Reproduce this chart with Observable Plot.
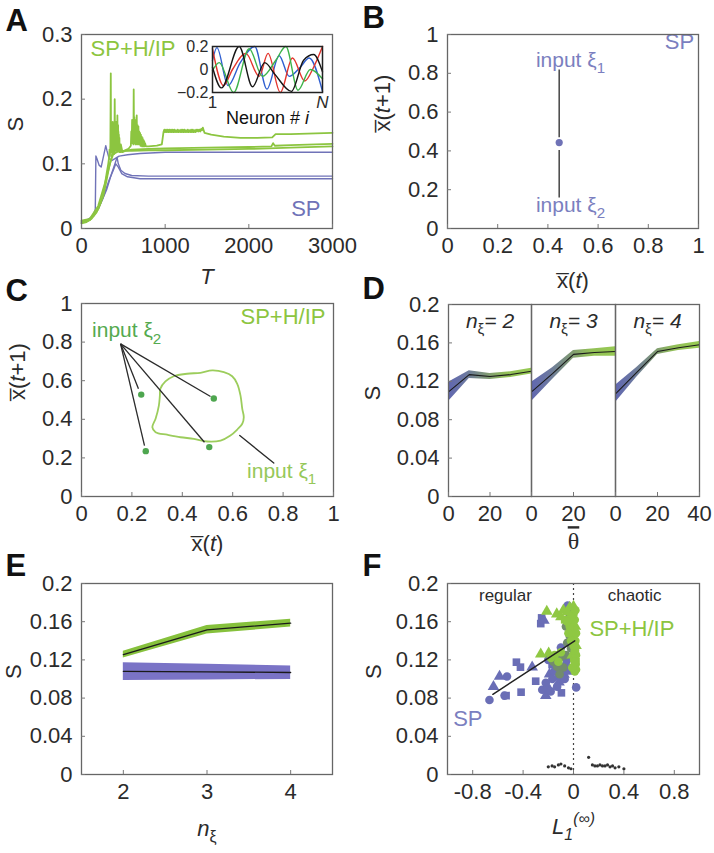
<!DOCTYPE html>
<html><head><meta charset="utf-8">
<script src="https://cdn.jsdelivr.net/npm/d3@7"></script>
<script src="https://cdn.jsdelivr.net/npm/@observablehq/plot@0.6"></script>
<style>
body{margin:0;background:#fff;}
#fig{position:relative;width:714px;height:853px;background:#fff;overflow:hidden;}
#fig svg{position:absolute;overflow:visible;}
</style></head><body><div id="fig"></div>
<script>
// ---------------- DATA ----------------
// Panel A: S vs T, three SP runs and three SP+H/IP runs  [T, S]
const spRun1 = [[0,0.010],[80,0.012],[140,0.020],[165,0.030],[172,0.112],[185,0.108],[210,0.098],[235,0.095],[260,0.110],[290,0.128],[305,0.120],[330,0.108],[360,0.105],[400,0.108],[450,0.112],[550,0.114],[700,0.116],[1000,0.118],[2000,0.118],[3000,0.118]];
const spRun2 = [[0,0.010],[100,0.015],[200,0.030],[300,0.060],[360,0.085],[400,0.100],[425,0.110],[440,0.100],[470,0.090],[520,0.085],[600,0.082],[800,0.081],[1000,0.081],[3000,0.081]];
const spRun3 = [[0,0.008],[150,0.020],[250,0.045],[330,0.075],[380,0.090],[410,0.100],[440,0.095],[480,0.085],[550,0.080],[700,0.077],[1000,0.077],[3000,0.077]];
const hipRun1 = [[0,0.008],[60,0.010],[120,0.015],[180,0.025],[230,0.040],[270,0.060],[300,0.085],[320,0.100],
  [330,0.110],[335,0.122],[340,0.112],[345,0.130],[350,0.240],[353,0.125],[357,0.140],[361,0.118],[365,0.150],[369,0.122],[373,0.165],[377,0.120],[381,0.145],[385,0.125],[389,0.150],[393,0.122],[397,0.200],[401,0.125],[405,0.155],[409,0.120],[413,0.165],[417,0.128],[421,0.150],[425,0.122],[429,0.175],[433,0.120],[437,0.160],[441,0.125],[445,0.145],[449,0.120],[453,0.140],[457,0.118],[462,0.130],[470,0.118],
  [520,0.121],[560,0.123],
  [590,0.128],[595,0.150],[600,0.132],[605,0.168],[610,0.135],[615,0.165],[620,0.130],[624,0.215],[628,0.135],[632,0.172],[636,0.132],[640,0.168],[645,0.130],[650,0.165],[655,0.132],[660,0.175],[665,0.130],[670,0.160],[675,0.132],[680,0.158],[685,0.130],[690,0.150],[695,0.130],[700,0.148],[705,0.128],[710,0.145],[715,0.128],[720,0.142],[725,0.127],[730,0.140],[735,0.127],[740,0.137],[745,0.127],[750,0.135],[755,0.127],[760,0.132],[770,0.127],
  [800,0.127],[900,0.128],[960,0.130],
  [980,0.149],[990,0.153],[1000,0.149],[1010,0.153],[1020,0.149],[1030,0.153],[1040,0.149],[1050,0.153],[1060,0.149],[1070,0.153],[1080,0.149],[1090,0.153],[1100,0.149],[1110,0.153],[1120,0.149],[1130,0.152],[1140,0.149],[1150,0.153],[1160,0.149],[1170,0.152],[1180,0.149],[1190,0.153],[1200,0.149],[1210,0.153],[1220,0.149],[1230,0.153],[1240,0.149],[1250,0.152],[1260,0.149],[1270,0.153],[1280,0.149],[1290,0.152],[1300,0.149],[1310,0.153],[1320,0.149],[1330,0.153],[1340,0.149],[1350,0.152],[1360,0.149],[1370,0.153],[1380,0.150],[1390,0.153],[1400,0.150],[1410,0.153],[1420,0.150],[1430,0.154],[1440,0.152],[1450,0.156],[1460,0.152],[1470,0.148],
  [1550,0.145],[1700,0.142],[1900,0.140],[2100,0.140],[2280,0.141],[2320,0.146],[2500,0.146],[2800,0.147],[3000,0.148]];
const hipRun2 = [[0,0.010],[100,0.013],[200,0.030],[260,0.050],[300,0.075],[330,0.095],[360,0.110],[380,0.130],[390,0.115],[410,0.140],[420,0.120],[440,0.150],[450,0.120],[470,0.130],[490,0.118],[520,0.120],[600,0.122],[800,0.123],[1000,0.124],[1500,0.125],[2000,0.126],[2270,0.127],[2290,0.132],[2310,0.128],[2500,0.129],[3000,0.131]];
const hipRun3 = [[0,0.012],[100,0.015],[200,0.035],[280,0.070],[320,0.090],[350,0.105],[380,0.115],[420,0.118],[480,0.120],[600,0.120],[800,0.121],[1000,0.121],[1500,0.122],[2000,0.123],[2500,0.125],[3000,0.127]];
const aTTicks = [0, 1000, 2000, 3000];
const aSTicks = [0, 0.1, 0.2, 0.3];
// Panel A inset: weights across neuron index [i, value]
const insetBlue  = [[1,0.08],[5,0.19],[15,-0.14],[26,0.06],[39,0.2],[50,-0.17],[61,0.12],[70,-0.06],[80,0.02],[88,0.1],[100,-0.19]];
const insetBlack = [[1,0.02],[9,-0.16],[25,0.2],[37,-0.15],[48,0.06],[57,-0.04],[72,-0.19],[83,0.08],[92,0.13],[100,-0.02]];
const insetRed   = [[1,0.18],[11,-0.14],[19,0.0],[31,0.14],[43,-0.06],[51,0.14],[62,-0.2],[73,0.1],[84,-0.1],[92,0.02],[100,0.2]];
const insetGreen = [[1,-0.01],[7,0.06],[20,-0.2],[34,0.18],[46,-0.06],[58,0.08],[67,0.2],[78,-0.18],[89,0.0],[100,-0.08]];
const insetYTicks = [-0.2, 0, 0.2];
const insetXTicks = [1, 100];

// Panel B: SP fixed point
const bFixedPoint = [[0.445, 0.443]];
const bStemX = [0.445, 0.445];
const bStemFrom = [0.82, 0.405];
const bStemTo = [0.47, 0.16];
const bInputText = ["input ξ_{1}", "input ξ_{2}"];
const bInputX = [0.49, 0.49];
const bInputY = [0.869, 0.119];

// Panel C: SP+H/IP attractor
const cLoop = [[0.313,0.558],[0.333,0.596],[0.366,0.623],[0.419,0.636],[0.472,0.641],[0.519,0.653],[0.565,0.644],[0.598,0.623],[0.618,0.584],[0.631,0.523],[0.638,0.454],[0.644,0.411],[0.638,0.377],[0.618,0.347],[0.591,0.316],[0.552,0.290],[0.499,0.285],[0.446,0.299],[0.393,0.307],[0.340,0.320],[0.294,0.333],[0.281,0.359],[0.294,0.403],[0.307,0.471],[0.311,0.523]];
const cPointX = [0.237, 0.255, 0.507, 0.525];
const cPointY = [0.528, 0.235, 0.256, 0.508];
const cHub = [0.155, 0.791];
const cLeadEndX = [0.226, 0.250, 0.488, 0.512];
const cLeadEndY = [0.558, 0.264, 0.281, 0.518];
const cLoopLead = [[0.628, 0.316], [0.763, 0.173]];

const unitTicks = [0, 0.2, 0.4, 0.6, 0.8, 1];

// Panel D: S vs theta-bar for n_xi = 2,3,4
const dTheta = [0, 10, 20, 30, 40];
const dMean2 = [0.109, 0.127, 0.125, 0.127, 0.1305];
const dSd2   = [0.010, 0.004, 0.003, 0.003, 0.003];
const dMean3 = [0.109, 0.128, 0.148, 0.150, 0.151];
const dSd3   = [0.010, 0.006, 0.004, 0.004, 0.005];
const dMean4 = [0.107, 0.129, 0.151, 0.155, 0.158];
const dSd4   = [0.009, 0.005, 0.003, 0.003, 0.0035];
const dNxi = [2, 3, 4];
const sTicks = [0, 0.04, 0.08, 0.12, 0.16, 0.2];

// Panel E: S vs n_xi
const eN = [2, 3, 4];
const eHipMean = [0.1255, 0.1515, 0.1585];
const eHipSd = [0.0035, 0.0045, 0.004];
const eSpMean = [0.108, 0.1075, 0.1068];
const eSpLo = [0.0984, 0.0990, 0.0996];
const eSpHi = [0.117, 0.1155, 0.1136];

// Panel F: S vs Lyapunov exponent
const fSpCircle = [[-0.667,0.078],[-0.547,0.0826],[-0.528,0.1026],[-0.248,0.0887],[-0.208,0.0908],[-0.181,0.087],[-0.168,0.100],[-0.14,0.119],[-0.061,0.115],[-0.053,0.120],[-0.046,0.177],[0.021,0.0912],[-0.12,0.125],[-0.2,0.120],[-0.1,0.133],[-0.15,0.108],[-0.09,0.110],[-0.22,0.096],[-0.13,0.092],[-0.07,0.100]];
const fSpSquare = [[-0.535,0.0826],[-0.453,0.1176],[-0.421,0.1124],[-0.416,0.0862],[-0.3,0.0977],[-0.253,0.164],[-0.12,0.1025],[-0.096,0.0855],[-0.26,0.158],[-0.17,0.115]];
const fSpTriangle = [[-0.587,0.1026],[-0.635,0.092],[-0.328,0.1124],[-0.235,0.1614],[-0.22,0.0826],[-0.115,0.0966],[-0.075,0.1047],[-0.19,0.105],[-0.05,0.108]];
const fHipCircle = [[0.01,0.108],[0.015,0.115],[0.005,0.120],[0.02,0.125],[0.01,0.130],[0.0,0.135],[0.015,0.140],[0.02,0.148],[0.005,0.152],[-0.01,0.158],[0.01,0.162],[0.0,0.168],[0.015,0.172],[-0.02,0.165],[-0.03,0.155],[-0.04,0.148],[-0.02,0.140],[0.02,0.110],[-0.01,0.112],[0.01,0.118],[-0.05,0.160],[-0.15,0.125],[-0.12,0.118],[-0.1,0.128],[-0.18,0.122]];
const fHipTriangle = [[-0.212,0.1707],[-0.133,0.168],[-0.08,0.172],[-0.03,0.175],[0.0,0.176],[-0.26,0.126],[-0.197,0.127],[-0.05,0.170],[-0.1,0.165],[0.015,0.155],[0.02,0.135],[-0.01,0.125]];
const fHipSquare = [[0.02,0.118],[0.0,0.145],[0.015,0.128],[-0.07,0.162]];
const fOverlap = [[-0.03,0.145],[-0.05,0.138],[-0.02,0.132],[-0.1,0.123],[-0.13,0.113],[-0.08,0.112],[-0.06,0.155],[-0.16,0.118],[-0.02,0.160],[-0.04,0.170],[-0.11,0.105],[-0.06,0.125]];
const fFit = [[-0.64,0.084],[0.01,0.140]];
const fChaosX = [-0.2,-0.17,-0.15,-0.12,-0.1,-0.07,-0.04,-0.02,0.12,0.15,0.17,0.19,0.21,0.23,0.25,0.27,0.29,0.31,0.33,0.36,0.4];
const fChaosY = [0.008,0.009,0.008,0.010,0.011,0.009,0.007,0.006,0.018,0.010,0.009,0.009,0.010,0.009,0.009,0.010,0.008,0.009,0.007,0.008,0.006];
const fLTicks = [-0.8, -0.4, 0, 0.4, 0.8];

// ---------------- STYLE / HELPERS ----------------
const NS = "http://www.w3.org/2000/svg";
const FONT = "'Liberation Sans', Arial, Helvetica, sans-serif";
const SERIF = "'Liberation Serif', 'Times New Roman', serif";
const GREEN = "#8cc540", GREEN_DARK = "#4ea64f", BLUE = "#7073b8", BLUE_TXT = "#7b7fc0";
const FRAME = "#666", TICK = "#777", INK = "#2b2b2b";
const fig = document.getElementById("fig");
const px = d => d[0], py = d => d[1];
const num = d => (d < 0 ? "-" + (-d) : String(d));
const style = "font-family:" + FONT + ";font-size:22px;color:" + INK + ";background:transparent;overflow:visible;";
const BAR = "\u0305"; // combining overline

// markup: \i{} italic, \o{} combining bar, \O{} decoration overline, _{} sub, _i{} italic sub, ^{} sup, ^i{} italic sup
function richText(svg) {
  svg.querySelectorAll("text").forEach(el => {
    const s = el.textContent;
    if (!/[\\_^]/.test(s) || el.querySelector("tspan")) return;
    const fs = parseFloat(getComputedStyle(el).fontSize) || 22;
    const re = /\\i\{([^}]*)\}|\\o\{([^}]*)\}|\\O\{([^}]*)\}|_i\{([^}]*)\}|_\{([^}]*)\}|\^i\{([^}]*)\}|\^\{([^}]*)\}|([^\\_^]+)/g;
    el.textContent = "";
    let shift = 0, m;
    while ((m = re.exec(s))) {
      let text, italic = false, level = 0, deco = false;
      if (m[1] !== undefined) { text = m[1]; italic = true; }
      else if (m[2] !== undefined) { text = m[2] + BAR; }
      else if (m[3] !== undefined) { text = m[3]; deco = true; }
      else if (m[4] !== undefined) { text = m[4]; italic = true; level = 1; }
      else if (m[5] !== undefined) { text = m[5]; level = 1; }
      else if (m[6] !== undefined) { text = m[6]; italic = true; level = -1; }
      else if (m[7] !== undefined) { text = m[7]; level = -1; }
      else text = m[8];
      const target = level === 1 ? 0.3 * fs : level === -1 ? -0.42 * fs : 0;
      const t = document.createElementNS(NS, "tspan");
      t.textContent = text;
      if (target !== shift) { t.setAttribute("dy", target - shift); shift = target; }
      if (level) t.setAttribute("font-size", 0.72 * fs);
      if (italic) t.setAttribute("font-style", "italic");
      if (deco) t.setAttribute("style", "text-decoration: overline");
      el.appendChild(t);
    }
  });
}
function place(svg, left, top) {
  svg.style.left = left + "px"; svg.style.top = top + "px";
  fig.appendChild(svg); richText(svg);
}
const xAxis = (ticks, o = {}) => Plot.axisX({ticks, tickSize: -4, tickPadding: 13, tickFormat: num, label: null, stroke: TICK, ...o});
const yAxis = (ticks, o = {}) => Plot.axisY({ticks, tickSize: -4, tickPadding: 13, tickFormat: num, label: null, stroke: TICK, ...o});
const frame = () => Plot.frame({stroke: FRAME, strokeWidth: 1.3});
const letter = (ch, dx, dy) => Plot.text([ch], {frameAnchor: "top-left", dx, dy, textAnchor: "start", lineAnchor: "bottom", fontWeight: "bold", fontSize: 31, fill: "#111"});
const yLabel = (t, dx, o = {}) => Plot.text([t], {frameAnchor: "left", dx, rotate: -90, lineAnchor: "middle", fontSize: 22, fill: INK, ...o});
const xLabel = (t, dy, o = {}) => Plot.text([t], {frameAnchor: "bottom", dy, lineAnchor: "middle", fontSize: 22, fill: INK, ...o});

// ---------------- PANEL A ----------------
place(Plot.plot({
  width: 357, height: 290, marginLeft: 81, marginTop: 34, marginRight: 25, marginBottom: 62, style,
  x: {domain: [0, 3000], axis: null}, y: {domain: [0, 0.3], axis: null},
  marks: [
    ...[spRun1, spRun2, spRun3].map(r => Plot.line(r, {x: px, y: py, stroke: BLUE, strokeWidth: 1.4})),
    ...[hipRun3, hipRun2, hipRun1].map(r => Plot.line(r, {x: px, y: py, stroke: GREEN, strokeWidth: 1.8})),
    frame(), xAxis(aTTicks), yAxis(aSTicks),
    Plot.text(["SP+H/IP"], {x: 108, y: 0.278, textAnchor: "start", lineAnchor: "middle", fill: GREEN, fontSize: 22}),
    Plot.text(["SP"], {x: 2857, y: 0.031, textAnchor: "end", lineAnchor: "middle", fill: BLUE, fontSize: 22}),
    letter("A", -76, -4), yLabel("S", -66), xLabel("T", 48, {fontStyle: "italic"})
  ]
}), 0, 0);

// inset
place(Plot.plot({
  width: 180, height: 96, marginLeft: 62, marginRight: 8, marginTop: 10, marginBottom: 40, style: style + "font-size:16px;",
  x: {domain: [1, 100], axis: null}, y: {domain: [-0.2, 0.2], axis: null},
  marks: [
    Plot.line(insetBlue, {x: px, y: py, stroke: "#2f5fd0", strokeWidth: 1.4, curve: "monotone-x"}),
    Plot.line(insetRed, {x: px, y: py, stroke: "#e3342c", strokeWidth: 1.4, curve: "monotone-x"}),
    Plot.line(insetGreen, {x: px, y: py, stroke: "#3db34a", strokeWidth: 1.4, curve: "monotone-x"}),
    Plot.line(insetBlack, {x: px, y: py, stroke: "#151515", strokeWidth: 1.4, curve: "monotone-x"}),
    Plot.frame({stroke: "#222", strokeWidth: 1.5}),
    Plot.axisY({ticks: insetYTicks, tickSize: 0, tickPadding: 4, label: null, fontSize: 16, tickFormat: d => (d < 0 ? "\u2212" + (-d) : String(d))}),
    Plot.axisX({ticks: insetXTicks, tickSize: 0, tickPadding: 3, label: null, fontSize: 17, tickFormat: d => (d === 1 ? "1" : "\\i{N}")}),
    Plot.text(["Neuron # \\i{i}"], {frameAnchor: "bottom", dy: 26, lineAnchor: "middle", fontSize: 18, fill: "#111"})
  ]
}), 150, 36);

// ---------------- PANEL B ----------------
place(Plot.plot({
  width: 357, height: 290, marginLeft: 90, marginTop: 34, marginRight: 16, marginBottom: 62, style,
  x: {domain: [0, 1], axis: null}, y: {domain: [0, 1], axis: null},
  marks: [
    Plot.link(bStemX, {x1: d => d, x2: d => d, y1: (d, i) => bStemFrom[i], y2: (d, i) => bStemTo[i], stroke: "#444", strokeWidth: 1.5}),
    Plot.dot(bFixedPoint, {x: px, y: py, r: 3.6, fill: "#6f72b6"}),
    Plot.text(bInputText, {x: (d, i) => bInputX[i], y: (d, i) => bInputY[i], lineAnchor: "middle", fill: BLUE_TXT, fontSize: 21}),
    Plot.text(["SP"], {x: 0.983, y: 0.96, textAnchor: "end", lineAnchor: "middle", fill: BLUE_TXT, fontSize: 22}),
    frame(), xAxis(unitTicks), yAxis(unitTicks),
    letter("B", -85, -7), yLabel("\\o{x}(\\i{t}+1)", -65), xLabel("\\o{x}(\\i{t})", 52)
  ]
}), 357, 0);

// ---------------- PANEL C ----------------
place(Plot.plot({
  width: 357, height: 300, marginLeft: 81, marginTop: 33, marginRight: 24, marginBottom: 74, style,
  x: {domain: [0, 1], axis: null}, y: {domain: [0, 1], axis: null},
  marks: [
    Plot.line(cLoop, {x: px, y: py, curve: "catmull-rom-closed", stroke: "#9ccd5c", strokeWidth: 1.8}),
    Plot.link(cLeadEndX, {x1: cHub[0], y1: cHub[1], x2: d => d, y2: (d, i) => cLeadEndY[i], stroke: "#2a2a2a", strokeWidth: 1.3}),
    Plot.line(cLoopLead, {x: px, y: py, stroke: "#2a2a2a", strokeWidth: 1.3}),
    Plot.dot(cPointX, {x: d => d, y: (d, i) => cPointY[i], r: 3.2, fill: GREEN_DARK}),
    Plot.text(["input ξ_{2}"], {x: 0.042, y: 0.86, textAnchor: "start", lineAnchor: "middle", fill: "#55aa4f", fontSize: 21}),
    Plot.text(["input ξ_{1}"], {x: 0.657, y: 0.13, textAnchor: "start", lineAnchor: "middle", fill: "#96c85a", fontSize: 21}),
    Plot.text(["SP+H/IP"], {x: 0.968, y: 0.929, textAnchor: "end", lineAnchor: "middle", fill: GREEN, fontSize: 22}),
    frame(), xAxis(unitTicks), yAxis(unitTicks),
    letter("C", -76, -3), yLabel("\\o{x}(\\i{t}+1)", -64), xLabel("\\o{x}(\\i{t})", 47)
  ]
}), 0, 270);

// ---------------- PANEL D ----------------
const dMeans = [dMean2, dMean3, dMean4], dSds = [dSd2, dSd3, dSd4];
const dLayout = [
  {left: 357, width: 176, ml: 91, mr: 2, xt: [0, 20]},
  {left: 529, width: 88, ml: 2, mr: 2, xt: [0, 20]},
  {left: 613, width: 101, ml: 2, mr: 15, xt: [0, 20, 40]}
];
const gradDefs = () => {
  const defs = document.createElementNS(NS, "defs");
  defs.innerHTML = '<linearGradient id="dBand" x1="0" x2="1" y1="0" y2="0">' +
    '<stop offset="0" stop-color="#4f56a8"/><stop offset="0.2" stop-color="#5b6898"/>' +
    '<stop offset="0.45" stop-color="#6f8a68"/><stop offset="0.7" stop-color="#86b845"/>' +
    '<stop offset="1" stop-color="#8cc540"/></linearGradient>';
  return defs;
};
dNxi.forEach((n, k) => {
  const L = dLayout[k], mean = dMeans[k], sd = dSds[k];
  const marks = [
    gradDefs,
    Plot.areaY(dTheta, {x: d => d, y1: (d, i) => mean[i] - sd[i], y2: (d, i) => mean[i] + sd[i], fill: "url(#dBand)", fillOpacity: 0.9}),
    Plot.line(dTheta, {x: d => d, y: (d, i) => mean[i], stroke: "#1a1a1a", strokeWidth: 1.1}),
    Plot.text([n], {x: 20, y: 0.176, lineAnchor: "bottom", fontSize: 21, fill: INK, text: d => "\\i{n}_{ξ}\\i{= " + d + "}"}),
    Plot.frame({stroke: FRAME, strokeWidth: 1.3}),
    xAxis(L.xt)
  ];
  if (k === 0) marks.push(yAxis(sTicks), letter("D", -86, -6), yLabel("S", -76));
  if (k === 1) marks.push(xLabel("\\O{θ}", 45, {fontFamily: SERIF, fontSize: 24}));
  place(Plot.plot({
    width: L.width, height: 300, marginLeft: L.ml, marginRight: L.mr, marginTop: 34, marginBottom: 74, style,
    x: {domain: [0, 40], axis: null}, y: {domain: [0, 0.2], axis: null}, marks
  }), L.left, 270);
});

// ---------------- PANEL E ----------------
place(Plot.plot({
  width: 357, height: 303, marginLeft: 81, marginTop: 33, marginRight: 25, marginBottom: 79, style,
  x: {domain: [1.5, 4.5], axis: null}, y: {domain: [0, 0.2], axis: null},
  marks: [
    Plot.areaY(eN, {x: d => d, y1: (d, i) => eSpLo[i], y2: (d, i) => eSpHi[i], fill: "#7a73c6"}),
    Plot.line(eN, {x: d => d, y: (d, i) => eSpMean[i], stroke: "#1a1a1a", strokeWidth: 1.3}),
    Plot.areaY(eN, {x: d => d, y1: (d, i) => eHipMean[i] - eHipSd[i], y2: (d, i) => eHipMean[i] + eHipSd[i], fill: "#86c13c"}),
    Plot.line(eN, {x: d => d, y: (d, i) => eHipMean[i], stroke: "#1a1a1a", strokeWidth: 1.3}),
    frame(), xAxis(eN), yAxis(sTicks),
    letter("E", -76, -8), yLabel("S", -68), xLabel("\\i{n}_{ξ}", 54)
  ]
}), 0, 550);

// ---------------- PANEL F ----------------
const dotOpts = (fill, symbol) => ({x: px, y: py, r: 4.3, fill, symbol});
const FBLUE = "#6a6eb6", FGREEN = "#8fc843", FMIX = "#728c6c";
place(Plot.plot({
  width: 357, height: 303, marginLeft: 90, marginTop: 33, marginRight: 15, marginBottom: 79, style,
  x: {domain: [-1, 1], axis: null}, y: {domain: [0, 0.2], axis: null},
  marks: [
    Plot.ruleX([0], {stroke: "#444", strokeWidth: 1.2, strokeDasharray: "2,3"}),
    Plot.dot(fSpSquare, dotOpts(FBLUE, "square")),
    Plot.dot(fSpTriangle, dotOpts(FBLUE, "triangle")),
    Plot.dot(fSpCircle, dotOpts(FBLUE, "circle")),
    Plot.dot(fOverlap, dotOpts(FMIX, "circle")),
    Plot.dot(fHipSquare, dotOpts(FGREEN, "square")),
    Plot.dot(fHipTriangle, dotOpts(FGREEN, "triangle")),
    Plot.dot(fHipCircle, dotOpts(FGREEN, "circle")),
    Plot.line(fFit, {x: px, y: py, stroke: "#222", strokeWidth: 1.5}),
    Plot.dot(fChaosX, {x: d => d, y: (d, i) => fChaosY[i], r: 1.6, fill: "#333"}),
    Plot.text(["regular"], {x: -0.54, y: 0.187, lineAnchor: "middle", fontSize: 17, fill: INK}),
    Plot.text(["chaotic"], {x: 0.485, y: 0.187, lineAnchor: "middle", fontSize: 17, fill: INK}),
    Plot.text(["SP+H/IP"], {x: 0.126, y: 0.1525, textAnchor: "start", lineAnchor: "middle", fill: GREEN, fontSize: 22}),
    Plot.text(["SP"], {x: -0.955, y: 0.058, textAnchor: "start", lineAnchor: "middle", fill: BLUE_TXT, fontSize: 22}),
    frame(), xAxis(fLTicks), yAxis(sTicks),
    letter("F", -85, -8), yLabel("S", -74), xLabel("\\i{L}_i{1}^i{(∞)}", 52)
  ]
}), 357, 550);
</script></body></html>
